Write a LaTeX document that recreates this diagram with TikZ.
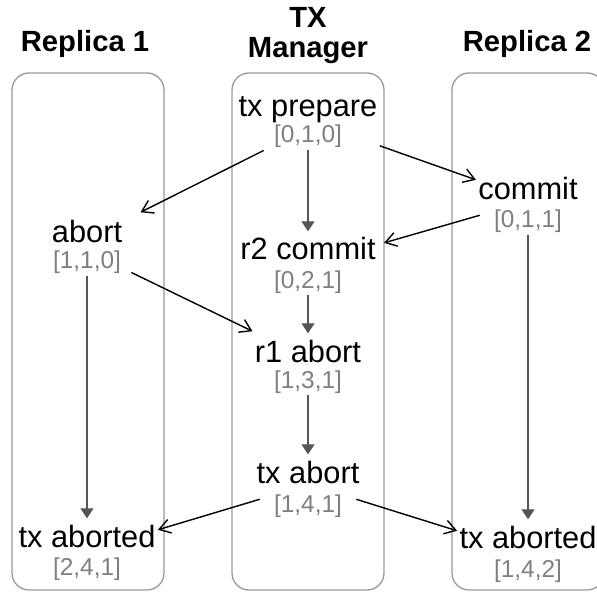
\documentclass[tikz,border=0pt]{standalone}
\usepackage{fontspec}
\setmainfont{Liberation Sans}
\usetikzlibrary{arrows.meta}
\definecolor{lanegray}{HTML}{999999}
\definecolor{stampgray}{HTML}{7F7F7F}
\definecolor{flowgray}{HTML}{555555}
\begin{document}
\begin{tikzpicture}[x=0.5pt,y=-0.5pt,
  lane/.style={draw=lanegray,line width=0.65pt,rounded corners=8.5pt},
  lanetitle/.style={font=\fontsize{14.6}{15}\selectfont\bfseries,align=center,anchor=base,inner sep=1pt},
  evt/.style={font=\fontsize{15.4}{18}\selectfont,anchor=base,inner sep=1pt},
  stamp/.style={font=\fontsize{12.2}{14}\selectfont,text=stampgray,anchor=base,inner sep=1pt},
  msg/.style={-{Straight Barb[length=5.5pt,width=7pt]},line width=0.7pt},
  flow/.style={-{Triangle[length=5pt,width=6.5pt]},draw=flowgray,fill=flowgray,line width=0.6pt,shorten >=2pt}]
\useasboundingbox (0,0) rectangle (597,592);
\clip (0,0) rectangle (597,592);

\draw[lane] (12,73) rectangle (164,590);
\draw[lane] (232,73) rectangle (384,590);
\draw[lane] (452,73) rectangle (604,590);

\node[lanetitle] (rep1) at (85,52) {Replica 1};
\node[lanetitle] (mgr) at (308,58) {TX\\Manager};
\node[lanetitle] (rep2) at (527,52) {Replica 2};

\node[evt] (prep) at (308,117) {tx prepare};
\node[stamp] (prepts) at (308,143) {[0,1,0]};

\node[evt] (ab1) at (87,243) {abort};
\node[stamp] (ab1ts) at (87,269) {[1,1,0]};

\node[evt] (cm3) at (528,200) {commit};
\node[stamp] (cm3ts) at (528,228) {[0,1,1]};

\node[evt] (r2c) at (308,260) {r2 commit};
\node[stamp] (r2cts) at (308,288) {[0,2,1]};

\node[evt] (r1a) at (308,362) {r1 abort};
\node[stamp] (r1ats) at (308,388) {[1,3,1]};

\node[evt] (txa) at (308,483) {tx abort};
\node[stamp] (txats) at (308,512) {[1,4,1]};

\node[evt] (ad1) at (87,547) {tx aborted};
\node[stamp] (ad1ts) at (87,575) {[2,4,1]};

\node[evt] (ad3) at (528,548) {tx aborted};
\node[stamp] (ad3ts) at (528,577) {[1,4,2]};

\draw[flow] (prepts.south) -- (r2c.north);
\draw[flow] (r2cts.south) -- (r1a.north);
\draw[flow] (r1ats.south) -- (txa.north);
\draw[flow] (ab1ts.south) -- (ad1.north);
\draw[flow] (cm3ts.south) -- (ad3.north);

\draw[msg] ([xshift=-4pt]prepts.south west) -- ([xshift=8pt,yshift=3pt]ab1.north east);
\draw[msg] ([yshift=-10pt]prep.south east) -- (cm3.170);
\draw[msg] ([xshift=-6pt]cm3ts.170) -- ([xshift=3pt]r2c.5);
\draw[msg] ([xshift=4pt,yshift=2pt]ab1ts.south east) -- ([yshift=3pt]r1a.north west);
\draw[msg] ([xshift=-6pt]txats.170) -- (ad1.5);
\draw[msg] ([xshift=6pt]txats.10) -- (ad3.175);

\end{tikzpicture}
\end{document}
